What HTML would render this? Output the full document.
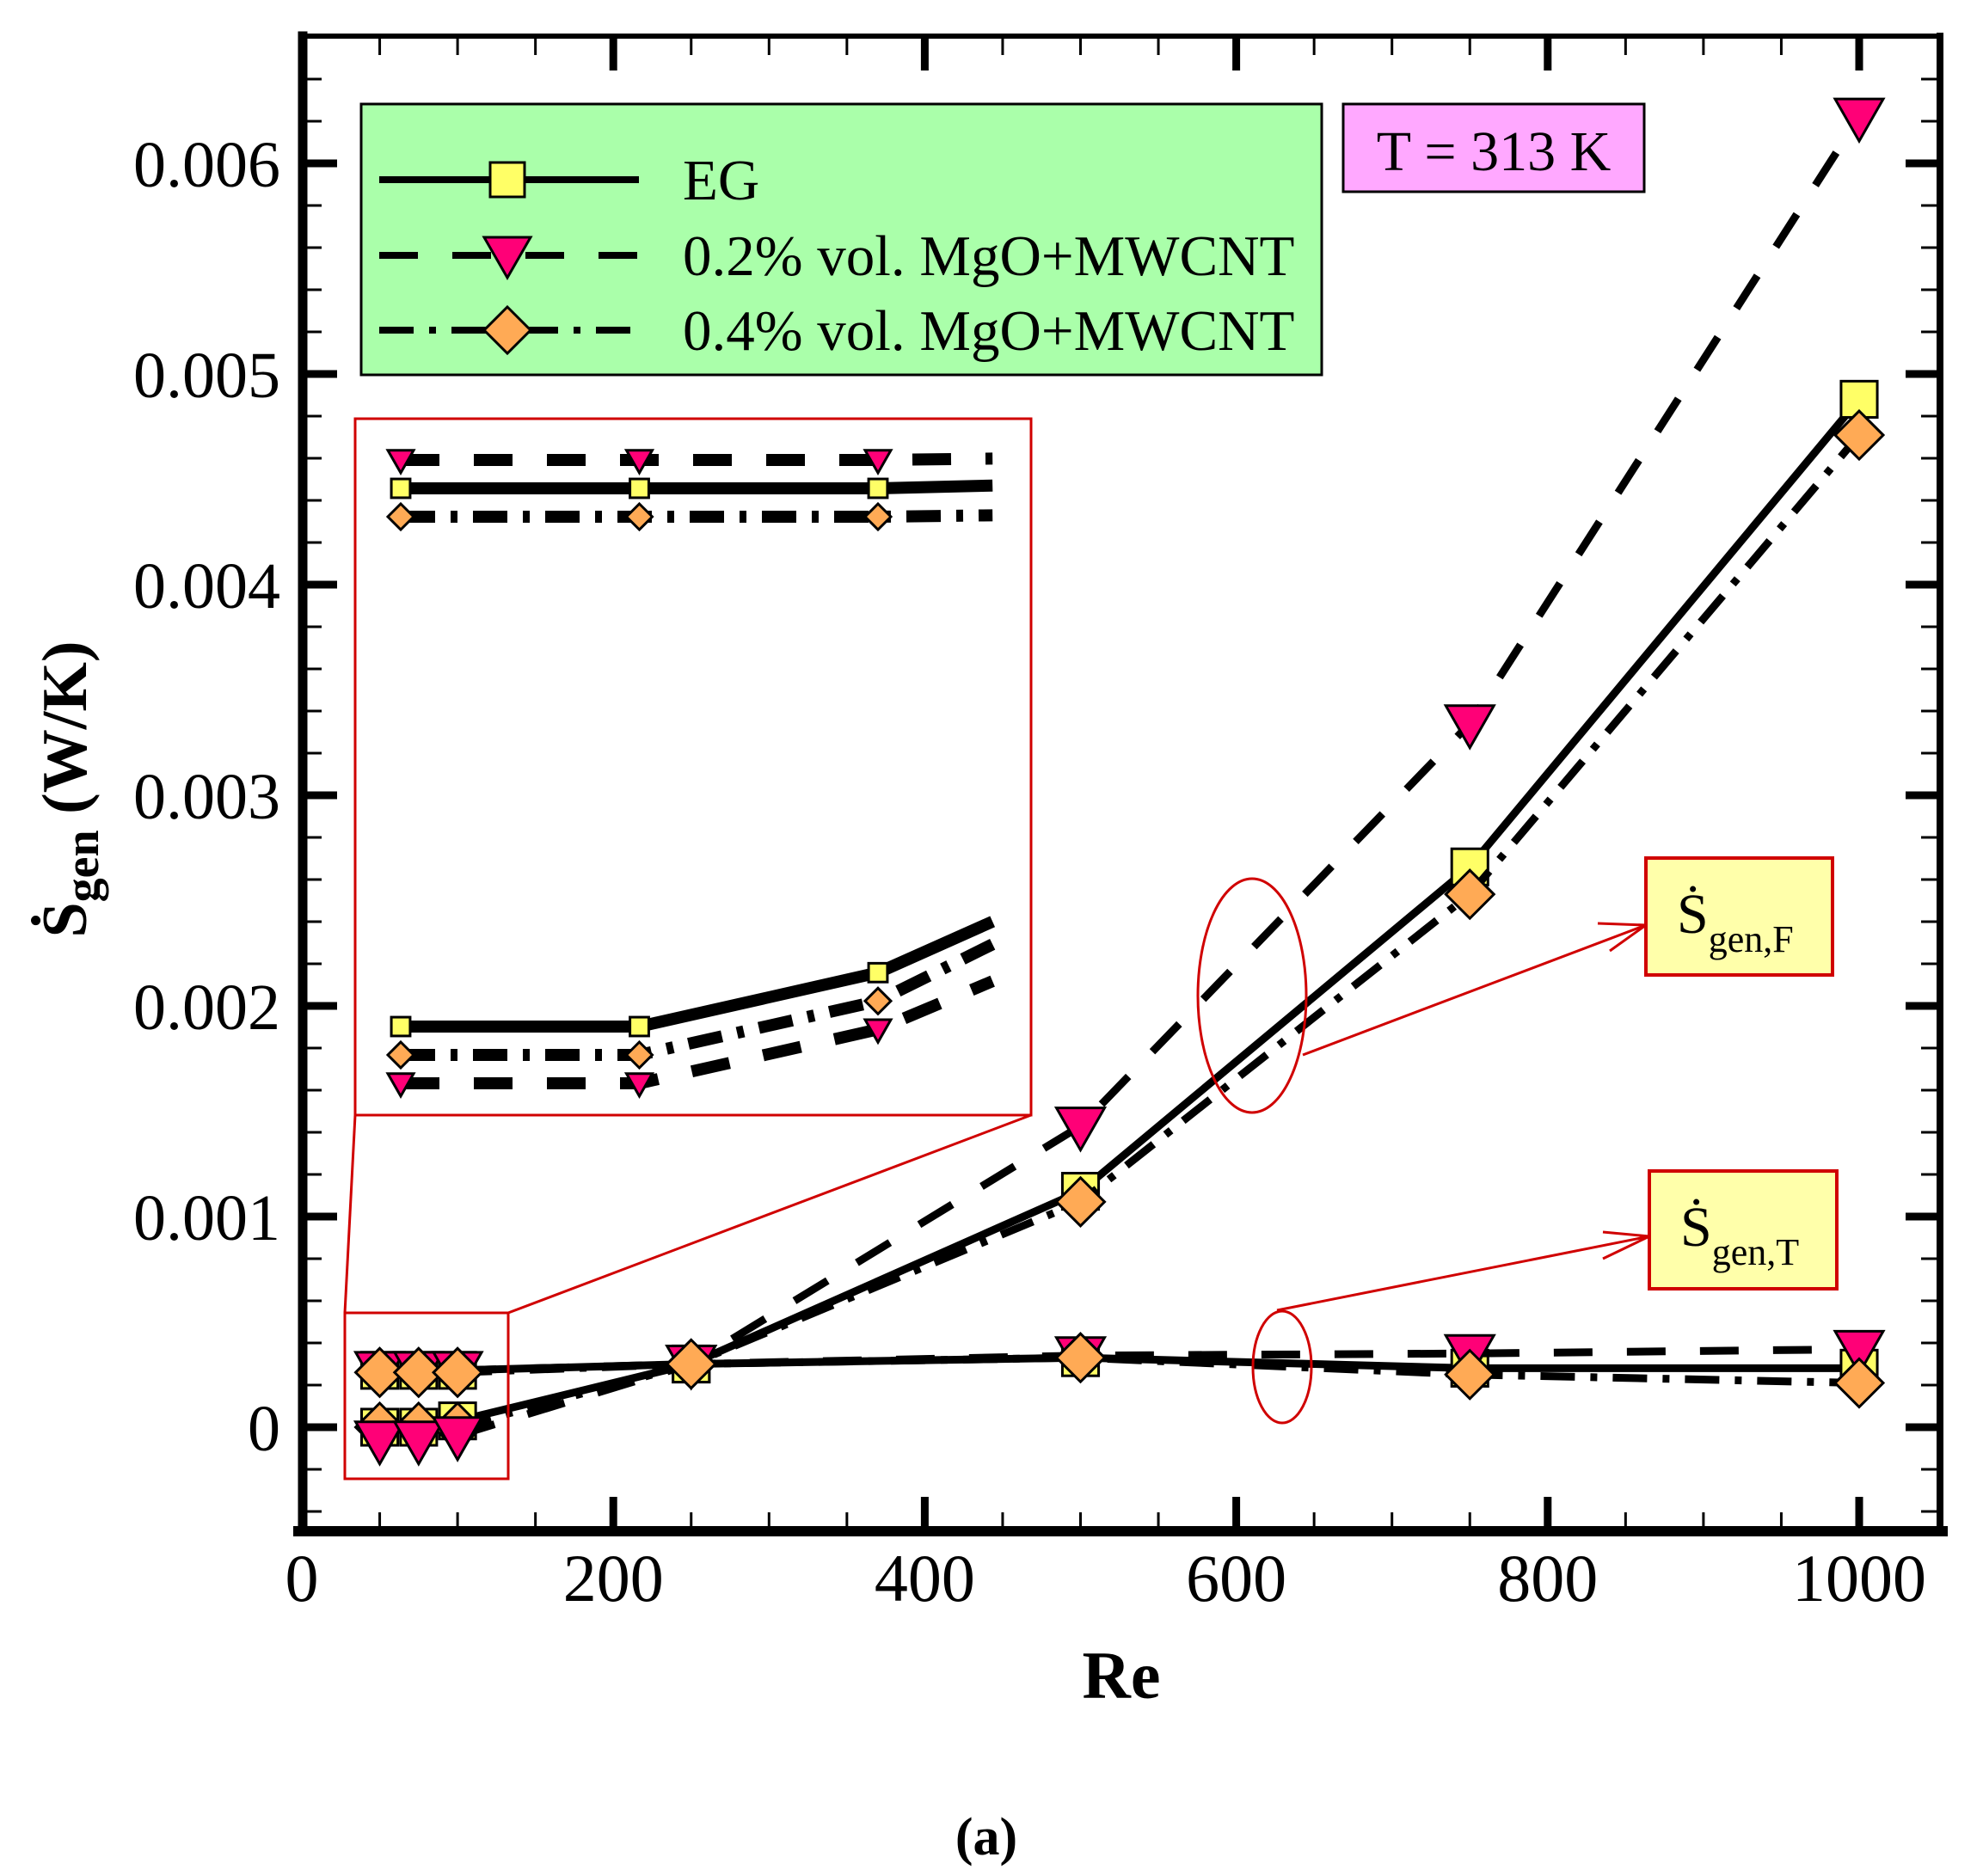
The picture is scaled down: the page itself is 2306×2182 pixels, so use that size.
<!DOCTYPE html>
<html><head><meta charset="utf-8">
<style>
html,body{margin:0;padding:0;background:#fff;}
svg{display:block;font-family:"Liberation Serif",serif;}
</style></head>
<body>
<svg id="chart" xmlns="http://www.w3.org/2000/svg" width="2306" height="2182" viewBox="0 0 2306 2182">
<rect x="0" y="0" width="2306" height="2182" fill="#fff"/>
<g id="grid-ticks"></g>
<g id="inset"></g>
<g id="series"></g>
<g id="frame"></g>
<g id="labels"></g>

<text x="1304" y="1975" font-size="78" font-weight="bold" text-anchor="middle">Re</text>
<text x="1147" y="2157" font-size="62" font-weight="bold" text-anchor="middle">(a)</text>
<text transform="translate(100,918) rotate(-90)" font-size="74" font-weight="bold" text-anchor="middle">Ṡ<tspan font-size="56" dy="14">gen</tspan><tspan dy="-14"> (W/K)</tspan></text>

<g>
<rect x="420" y="121" width="1117" height="315" fill="#aaffaa" stroke="#000" stroke-width="3"/>
<g>
<line x1="441" y1="209" x2="743" y2="209" stroke="#000" stroke-width="8"/>
<rect x="570" y="189" width="40" height="40" fill="#ffff66" stroke="#000" stroke-width="3"/>
<text x="794" y="232" font-size="67">EG</text></g>
<g>
<line x1="441" y1="297" x2="743" y2="297" stroke="#000" stroke-width="8" stroke-dasharray="45,40"/>
<polygon points="563,276 617,276 590,323" fill="#ff0077" stroke="#000" stroke-width="3"/>
<text x="794" y="320" font-size="67">0.2% vol. MgO+MWCNT</text></g>
<g>
<line x1="441" y1="384" x2="743" y2="384" stroke="#000" stroke-width="8" stroke-dasharray="40,18,8,18"/>
<polygon points="590,357 617,384 590,411 563,384" fill="#ffaa55" stroke="#000" stroke-width="3"/>
<text x="794" y="407" font-size="67">0.4% vol. MgO+MWCNT</text></g>
</g>

<g>
<rect x="1562" y="121" width="350" height="102" fill="#ffa8ff" stroke="#000" stroke-width="3"/>
<text x="1737" y="198" font-size="66" text-anchor="middle">T = 313 K</text></g>

<g>
<rect x="1914" y="998" width="217" height="136" fill="#ffffaa" stroke="#d00000" stroke-width="4"/>
<text x="1950" y="1085" font-size="66">Ṡ<tspan font-size="44" dy="22">gen,F</tspan></text></g>
<g>
<rect x="1918" y="1362" width="218" height="137" fill="#ffffaa" stroke="#d00000" stroke-width="4"/>
<text x="1954" y="1449" font-size="66">Ṡ<tspan font-size="44" dy="22">gen,T</tspan></text></g>

<g fill="none" stroke="#d00000" stroke-width="3">
<ellipse cx="1456" cy="1158" rx="63" ry="136"/>
<ellipse cx="1491" cy="1590" rx="34" ry="65"/>
<line x1="1515" y1="1227" x2="1914" y2="1076"/>
<line x1="1914" y1="1076" x2="1858" y2="1074"/>
<line x1="1914" y1="1076" x2="1872" y2="1106"/>
<line x1="1485" y1="1524" x2="1918" y2="1438"/>
<line x1="1918" y1="1438" x2="1864" y2="1433"/>
<line x1="1918" y1="1438" x2="1864" y2="1464"/>
<rect x="401" y="1527" width="190" height="193"/>
<rect x="413" y="487" width="786" height="810"/>
<line x1="401" y1="1527" x2="413" y2="1297"/>
<line x1="591" y1="1527" x2="1199" y2="1297"/>
</g>

<script>
const re = [50, 75, 100, 250, 500, 750, 1000];
const egF = [0.00000, 0.00000, 0.00003, 0.00030, 0.00112, 0.00266, 0.00488];
const mg2F = [-0.00006, -0.00006, -0.00004, 0.00030, 0.00143, 0.00334, 0.00622];
const mg4F = [0.00000, 0.00000, 0.00000, 0.00030, 0.00107, 0.00253, 0.00471];
const egT = [0.00027, 0.00027, 0.00027, 0.00030, 0.00033, 0.00028, 0.00028];
const mg2T = [0.00027, 0.00027, 0.00027, 0.00030, 0.00034, 0.00035, 0.00037];
const mg4T = [0.00026, 0.00026, 0.00026, 0.00030, 0.00033, 0.00025, 0.00021];
const xTicks = [0, 200, 400, 600, 800, 1000];
const yTicks = [0, 0.001, 0.002, 0.003, 0.004, 0.005, 0.006];
const yTickLabels = ["0", "0.001", "0.002", "0.003", "0.004", "0.005", "0.006"];
const insetRe = [50, 75, 100, 112];
const insetEgT = [0, 0, 0, 0.1];
const insetMg2T = [1, 1, 1, 1.05];
const insetMg4T = [-1, -1, -1, -0.95];
const insetEgF = [0, 0, 1.9, 3.7];
const insetMg4F = [-1, -1, 0.9, 2.9];
const insetMg2F = [-2, -2, -0.1, 1.6];

const NS = "http://www.w3.org/2000/svg";
const X0 = 351, XS = 1.811, Y0 = 1660, YS = 245000;
function xp(v){ return X0 + v * XS; }
function yp(v){ return Y0 - v * YS; }
function ixp(v){ return 466 + (v - 50) * 11.1; }
function iyT(v){ return 568 - v * 33; }
function iyF(v){ return 1194 - v * 33; }
function mk(tag, attrs, parent){
  const e = document.createElementNS(NS, tag);
  for (const k in attrs) e.setAttribute(k, attrs[k]);
  parent.appendChild(e); return e;
}
const ticksG = document.getElementById('grid-ticks');
const frameG = document.getElementById('frame');
const labelsG = document.getElementById('labels');
const seriesG = document.getElementById('series');
const insetG = document.getElementById('inset');

const L = 352, R = 2256, T = 42, B = 1781;
for (let v = -0.0004; v <= 0.0066; v += 0.0002) {
  const major = Math.abs(v / 0.001 - Math.round(v / 0.001)) < 1e-6;
  const y = yp(v); if (y < T + 5 || y > B - 5) continue;
  const len = major ? 40 : 22, w = major ? 9 : 3;
  const t1 = mk('line', {x1: L, y1: y, x2: L + len, y2: y, stroke: '#000', 'stroke-width': w}, ticksG);
  
  
  const t2 = mk('line', {x1: R, y1: y, x2: R - len, y2: y, stroke: '#000', 'stroke-width': w}, ticksG);
  
  
}
for (let v = 50; v <= 1050; v += 50) {
  const major = v % 200 === 0;
  const x = xp(v); if (x > R - 5) continue;
  const len = major ? 40 : 22, w = major ? 9 : 3;
  const t1 = mk('line', {x1: x, y1: B, x2: x, y2: B - len, stroke: '#000', 'stroke-width': w}, ticksG);
  
  
  const t2 = mk('line', {x1: x, y1: T, x2: x, y2: T + len, stroke: '#000', 'stroke-width': w}, ticksG);
  
  
}
[[L, T, L, B, 11], [L - 5, B, R + 3, B, 12], [L, T, R, T, 6], [R, T, R, B, 8]].forEach(a => {
  const f = mk('line', {x1: a[0], y1: a[1], x2: a[2], y2: a[3], stroke: '#000', 'stroke-width': a[4], 'stroke-linecap': 'square'}, frameG);
  
  
});
yTicks.forEach((v, i) => {
  const t = mk('text', {x: 326, y: yp(v) + 27, 'font-size': 76, 'text-anchor': 'end'}, labelsG);
  
  
  t.textContent = yTickLabels[i];
});
xTicks.forEach(v => {
  const t = mk('text', {x: xp(v), y: 1862, 'font-size': 78, 'text-anchor': 'middle'}, labelsG);
  
  
  t.textContent = String(v);
});

function marker(kind, x, y, s, parent){
  let e;
  if (kind === 'sq') e = mk('rect', {x: x - s * 0.78, y: y - s * 0.78, width: s * 1.56, height: s * 1.56, fill: '#ffff66', stroke: '#000', 'stroke-width': 3}, parent);
  else if (kind === 'tri') e = mk('polygon', {points: `${x - s},${y - s * 0.75} ${x + s},${y - s * 0.75} ${x},${y + s}`, fill: '#ff0077', stroke: '#000', 'stroke-width': 3}, parent);
  else e = mk('polygon', {points: `${x},${y - s} ${x + s},${y} ${x},${y + s} ${x - s},${y}`, fill: '#ffaa55', stroke: '#000', 'stroke-width': 3}, parent);
  return e;
}
const dashes = {sq: 'none', tri: '45,40', dia: '40,18,8,18'};
function drawSeries(vals, kind, name, startIdx, fx, fy, parent, sz, lw, xsArr){
  const pts = [];
  for (let i = startIdx; i < vals.length; i++) pts.push(fx(xsArr[i]) + ',' + fy(vals[i]));
  const pl = mk('polyline', {points: pts.join(' '), fill: 'none', stroke: '#000', 'stroke-width': lw, 'stroke-dasharray': dashes[kind], 'stroke-linejoin': 'round'}, parent);
  
  
  const n = parent === insetG ? 3 : vals.length;
  for (let i = 0; i < n; i++) {
    const m = marker(kind, fx(xsArr[i]), fy(vals[i]), sz, parent);
    
    
  }
}
drawSeries(egF, 'sq', 'eg-friction', 2, xp, yp, seriesG, 27, 9, re);
drawSeries(mg4F, 'dia', 'mgo04-friction', 2, xp, yp, seriesG, 28, 9, re);
drawSeries(mg2F, 'tri', 'mgo02-friction', 2, xp, yp, seriesG, 28, 9, re);
drawSeries(egT, 'sq', 'eg-thermal', 2, xp, yp, seriesG, 27, 9, re);
drawSeries(mg2T, 'tri', 'mgo02-thermal', 2, xp, yp, seriesG, 28, 9, re);
drawSeries(mg4T, 'dia', 'mgo04-thermal', 2, xp, yp, seriesG, 28, 9, re);
drawSeries(insetMg2T, 'tri', 'inset-mgo02-thermal', 0, ixp, iyT, insetG, 15, 14, insetRe);
drawSeries(insetEgT, 'sq', 'inset-eg-thermal', 0, ixp, iyT, insetG, 14, 14, insetRe);
drawSeries(insetMg4T, 'dia', 'inset-mgo04-thermal', 0, ixp, iyT, insetG, 15, 14, insetRe);
drawSeries(insetMg2F, 'tri', 'inset-mgo02-friction', 0, ixp, iyF, insetG, 15, 14, insetRe);
drawSeries(insetMg4F, 'dia', 'inset-mgo04-friction', 0, ixp, iyF, insetG, 15, 14, insetRe);
drawSeries(insetEgF, 'sq', 'inset-eg-friction', 0, ixp, iyF, insetG, 14, 14, insetRe);
</script>
</svg>
</body></html>
